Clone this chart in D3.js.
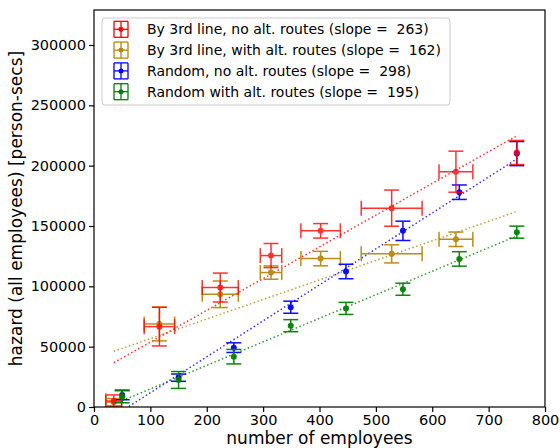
<!DOCTYPE html>
<html>
<head>
<meta charset="utf-8">
<script src="https://cdn.jsdelivr.net/npm/d3@7"></script>
<style>
  body { margin: 0; background: #fff; }
  text { font-family: "DejaVu Sans", sans-serif; fill: #000; }
</style>
</head>
<body>
<div id="chart"></div>
<script>
var seriesNames = [
  "By 3rd line, no alt. routes (slope =  263)",
  "By 3rd line, with alt. routes (slope =  162)",
  "Random, no alt. routes (slope =  298)",
  "Random with alt. routes (slope =  195)"
];
var seriesColors = ["red", "darkgoldenrod", "blue", "green"];

var redX    = [35, 116, 224, 314, 402, 528, 642, 750];
var redY    = [5000, 66600, 99000, 125500, 146000, 164800, 195000, 210900];
var redXErr = [14, 27, 32, 19, 35, 54, 30, 0];
var redYErr = [5000, 16000, 12000, 10000, 6000, 15000, 17000, 10000];

var goldX    = [35, 116, 224, 314, 402, 528, 642];
var goldY    = [4000, 68800, 93400, 111400, 123000, 126900, 139000];
var goldXErr = [14, 27, 32, 19, 35, 54, 30];
var goldYErr = [3000, 14000, 11000, 5500, 6000, 7500, 6000];

var blueX    = [50, 150, 248, 349, 447, 548, 648, 750];
var blueY    = [10000, 24300, 49200, 82700, 112300, 146000, 178000, 210000];
var blueXErr = [0, 0, 0, 0, 0, 0, 0, 0];
var blueYErr = [4000, 3000, 4000, 5000, 6000, 8000, 6000, 10000];

var greenX    = [50, 150, 248, 349, 447, 548, 648, 750];
var greenY    = [8500, 22400, 41700, 67400, 81700, 97600, 122700, 144900];
var greenXErr = [0, 0, 0, 0, 0, 0, 0, 0];
var greenYErr = [5000, 7000, 6000, 5000, 5000, 5000, 6000, 5000];

/* fitted lines: slope, intercept, x range */
var fitSlopes = [263, 162, 298, 195];
var fitIntercepts = [27500, 40500, -18000, -4500];
var fitFrom = [35, 35, 50, 50];
var fitTo = [750, 750, 750, 750];

var xTicks = [0, 100, 200, 300, 400, 500, 600, 700, 800];
var yTicks = [0, 50000, 100000, 150000, 200000, 250000, 300000];

var width = 560;
var height = 448;
var plotLeft = 94, plotRight = 545, plotTop = 10, plotBottom = 407;
var capSize = 7.5;

/* build series */
function makeSeries(xs, ys, xe, ye, i) {
  return {
    name: seriesNames[i],
    color: seriesColors[i],
    slope: fitSlopes[i],
    intercept: fitIntercepts[i],
    from: fitFrom[i],
    to: fitTo[i],
    values: xs.map(function(x, j) {
      return {x: x, y: ys[j], xe: xe[j], ye: ye[j]};
    })
  };
}
var data = [
  makeSeries(redX, redY, redXErr, redYErr, 0),
  makeSeries(goldX, goldY, goldXErr, goldYErr, 1),
  makeSeries(blueX, blueY, blueXErr, blueYErr, 2),
  makeSeries(greenX, greenY, greenXErr, greenYErr, 3)
];
var drawOrder = [1, 2, 0, 3];
var seriesOpacity = [0.8, 0.95, 0.95, 0.95];

/* Scale */
var xScale = d3.scaleLinear().domain([0, 800]).range([plotLeft, plotRight]);
var yScale = d3.scaleLinear().domain([0, 329000]).range([plotBottom, plotTop]);

var svg = d3.select("#chart").append("svg")
  .attr("width", width)
  .attr("height", height);

svg.append("defs").append("clipPath")
  .attr("id", "plot-clip")
  .append("rect")
  .attr("x", plotLeft).attr("y", plotTop)
  .attr("width", plotRight - plotLeft).attr("height", plotBottom - plotTop);

var plot = svg.append("g").attr("clip-path", "url(#plot-clip)");

/* fit lines */
drawOrder.forEach(function(i) {
  var s = data[i];
  plot.append("line")
    .attr("x1", xScale(s.from))
    .attr("y1", yScale(s.slope * s.from + s.intercept))
    .attr("x2", xScale(s.to))
    .attr("y2", yScale(s.slope * s.to + s.intercept))
    .attr("stroke", s.color)
    .attr("stroke-width", 1.5)
    .attr("stroke-dasharray", "1.5,2.5")
    .attr("opacity", 0.8);
});

/* error bars and points */
drawOrder.forEach(function(i) {
  var s = data[i];
  var g = plot.append("g")
    .attr("stroke", s.color)
    .attr("fill", s.color)
    .attr("opacity", seriesOpacity[i]);

  s.values.forEach(function(d) {
    var cx = xScale(d.x), cy = yScale(d.y);
    if (d.xe > 0) {
      var x0 = xScale(d.x - d.xe), x1 = xScale(d.x + d.xe);
      g.append("line").attr("x1", x0).attr("x2", x1).attr("y1", cy).attr("y2", cy).attr("stroke-width", 1.5);
      g.append("line").attr("x1", x0).attr("x2", x0).attr("y1", cy - capSize).attr("y2", cy + capSize).attr("stroke-width", 1.5);
      g.append("line").attr("x1", x1).attr("x2", x1).attr("y1", cy - capSize).attr("y2", cy + capSize).attr("stroke-width", 1.5);
    }
    var y0 = yScale(d.y - d.ye), y1 = yScale(d.y + d.ye);
    g.append("line").attr("x1", cx).attr("x2", cx).attr("y1", y0).attr("y2", y1).attr("stroke-width", 1.5);
    g.append("line").attr("x1", cx - capSize).attr("x2", cx + capSize).attr("y1", y0).attr("y2", y0).attr("stroke-width", 1.5);
    g.append("line").attr("x1", cx - capSize).attr("x2", cx + capSize).attr("y1", y1).attr("y2", y1).attr("stroke-width", 1.5);
    g.append("circle").attr("cx", cx).attr("cy", cy).attr("r", 3).attr("stroke", "none");
  });
});

/* Axes */
var xAxis = d3.axisBottom(xScale).tickValues(xTicks).tickSize(5).tickPadding(3);
var yAxis = d3.axisLeft(yScale).tickValues(yTicks).tickSize(5).tickPadding(3).tickFormat(d3.format("d"));

var gx = svg.append("g")
  .attr("transform", "translate(0," + plotBottom + ")")
  .call(xAxis);
var gy = svg.append("g")
  .attr("transform", "translate(" + plotLeft + ",0)")
  .call(yAxis);
[gx, gy].forEach(function(a) {
  a.select(".domain").remove();
  a.selectAll(".tick line").attr("stroke", "#000").attr("stroke-width", 1.2);
  a.selectAll(".tick text").style("font-size", "14.5px").attr("fill", "#000");
});

/* frame */
svg.append("rect")
  .attr("x", plotLeft).attr("y", plotTop)
  .attr("width", plotRight - plotLeft).attr("height", plotBottom - plotTop)
  .attr("fill", "none")
  .attr("stroke", "#000")
  .attr("stroke-width", 1.2);

/* axis labels */
svg.append("text")
  .attr("x", (plotLeft + plotRight) / 2)
  .attr("y", 444)
  .attr("text-anchor", "middle")
  .style("font-size", "17px")
  .text("number of employees");

svg.append("text")
  .attr("transform", "translate(22," + ((plotTop + plotBottom) / 2) + ") rotate(-90)")
  .attr("text-anchor", "middle")
  .style("font-size", "17px")
  .text("hazard (all employees) [person-secs]");

/* Legend */
var legend = svg.append("g").attr("transform", "translate(102,18)");
legend.append("rect")
  .attr("width", 348).attr("height", 87)
  .attr("rx", 3)
  .attr("fill", "#fff")
  .attr("fill-opacity", 0.8)
  .attr("stroke", "#cccccc");

data.forEach(function(s, i) {
  var row = legend.append("g").attr("transform", "translate(0," + (11.3 + i * 20.8) + ")");
  var mk = row.append("g").attr("stroke", s.color).attr("fill", s.color).attr("stroke-width", 1.3);
  var mx = 19;
  mk.append("line").attr("x1", mx - 7).attr("x2", mx + 7).attr("y1", 0).attr("y2", 0);
  mk.append("line").attr("x1", mx - 7).attr("x2", mx - 7).attr("y1", -8).attr("y2", 8);
  mk.append("line").attr("x1", mx + 7).attr("x2", mx + 7).attr("y1", -8).attr("y2", 8);
  mk.append("line").attr("x1", mx).attr("x2", mx).attr("y1", -8).attr("y2", 8);
  mk.append("line").attr("x1", mx - 7).attr("x2", mx + 7).attr("y1", -8).attr("y2", -8);
  mk.append("line").attr("x1", mx - 7).attr("x2", mx + 7).attr("y1", 8).attr("y2", 8);
  mk.append("circle").attr("cx", mx).attr("cy", 0).attr("r", 2.5).attr("stroke", "none");
  row.append("text")
    .attr("x", 45)
    .attr("y", 0)
    .attr("dy", "0.35em")
    .style("font-size", "14px")
    .style("white-space", "pre")
    .text(s.name);
});
</script>
</body>
</html>
